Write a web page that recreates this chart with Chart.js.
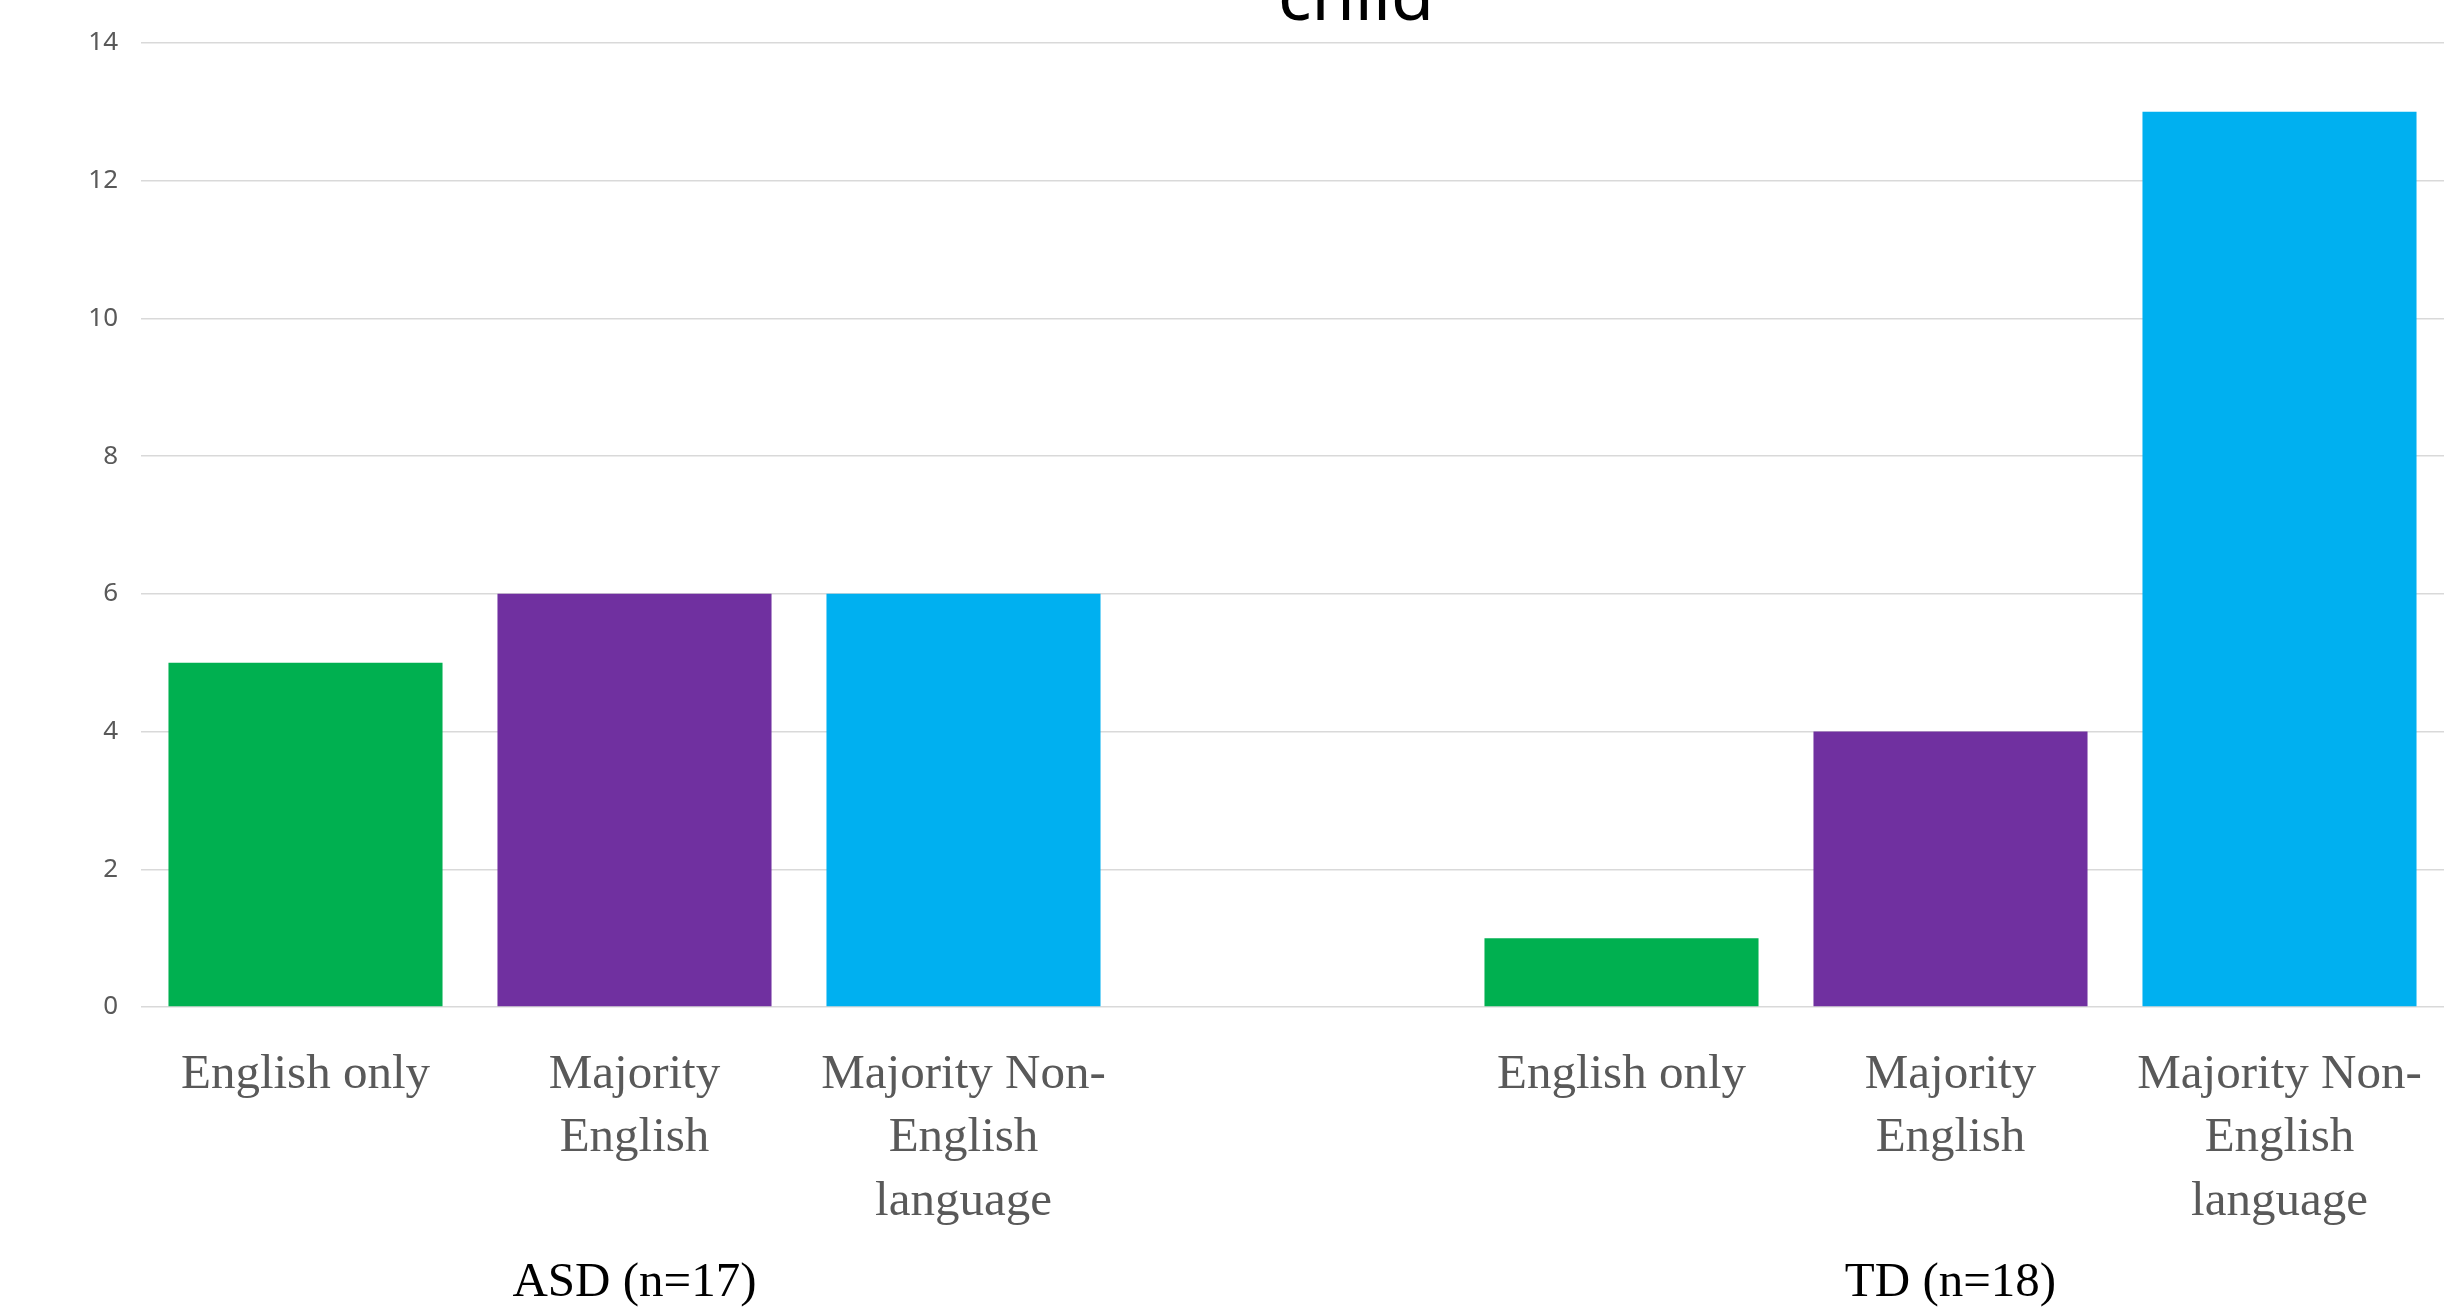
<!DOCTYPE html>
<html>
<head>
<meta charset="utf-8">
<script src="https://cdn.jsdelivr.net/npm/chart.js@4"></script>
<style>
  html, body { margin: 0; padding: 0; background: #ffffff; overflow: hidden; }
  #c { display: block; }
</style>
</head>
<body>
<canvas id="c" width="2459" height="1314"></canvas>
<script>
// ---- data ----
const categories = [
  ['English only'],
  ['Majority', 'English'],
  ['Majority Non-', 'English', 'language'],
  '',
  ['English only'],
  ['Majority', 'English'],
  ['Majority Non-', 'English', 'language']
];
const groupLabels = ['', 'ASD (n=17)', '', '', '', 'TD (n=18)', ''];
const counts = [5, 6, 6, null, 1, 4, 13];
const barColors = ['#00B050', '#7030A0', '#00B0F0', 'rgba(0,0,0,0)', '#00B050', '#7030A0', '#00B0F0'];
const yTicks = { min: 0, max: 14, step: 2 };
const titleText = 'child';

const titlePlugin = {
  id: 'cutTitle',
  afterDraw(chart) {
    const ctx = chart.ctx;
    ctx.save();
    ctx.font = '70px "Noto Sans"';
    ctx.fillStyle = '#000000';
    ctx.textAlign = 'center';
    ctx.textBaseline = 'alphabetic';
    ctx.fillText(titleText, 1356, 20);
    ctx.restore();
  }
};

new Chart(document.getElementById('c'), {
  type: 'bar',
  data: {
    labels: categories,
    datasets: [{
      data: counts,
      backgroundColor: barColors,
      borderWidth: 0,
      barPercentage: 0.833,
      categoryPercentage: 1.0
    }]
  },
  plugins: [titlePlugin],
  options: {
    responsive: false,
    animation: false,
    devicePixelRatio: 1,
    layout: { padding: { left: 0, right: 15, top: 43, bottom: 0 } },
    plugins: { legend: { display: false }, tooltip: { enabled: false }, title: { display: false } },
    scales: {
      y: {
        min: yTicks.min,
        max: yTicks.max,
        ticks: {
          stepSize: yTicks.step,
          padding: 23,
          color: '#595959',
          font: { family: '"Noto Sans"', size: 26 }
        },
        grid: { color: '#d9d9d9', lineWidth: 1.5, drawTicks: false },
        border: { display: false },
        afterFit(scale) { scale.width = 141; }
      },
      x: {
        weight: 0,
        offset: true,
        grid: { display: false, drawTicks: false },
        border: { display: false },
        ticks: {
          padding: 36,
          color: '#595959',
          maxRotation: 0,
          autoSkip: false,
          font: { family: '"Liberation Serif"', size: 49, lineHeight: 1.3 }
        },
        afterFit(scale) { scale.height = 227; }
      },
      x2: {
        type: 'category',
        axis: 'x',
        position: 'bottom',
        weight: 1,
        labels: groupLabels,
        offset: true,
        grid: { display: false, drawTicks: false },
        border: { display: false },
        ticks: {
          padding: 17,
          color: '#000000',
          maxRotation: 0,
          autoSkip: false,
          font: { family: '"Liberation Serif"', size: 49, lineHeight: 1.3 }
        },
        afterFit(scale) { scale.height = 80; }
      }
    }
  }
});
</script>
</body>
</html>
